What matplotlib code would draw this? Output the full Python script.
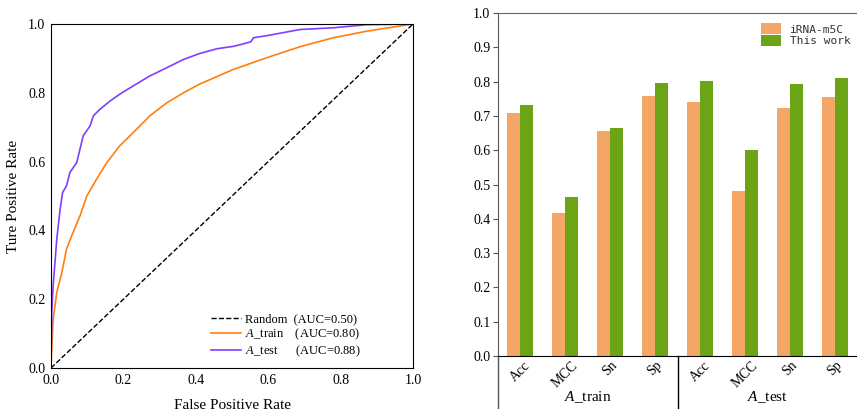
import numpy as np
import matplotlib
matplotlib.use('Agg')
import matplotlib.pyplot as plt
import matplotlib.transforms as mtransforms

plt.rcParams['font.family'] = 'Liberation Serif'
plt.rcParams['mathtext.fontset'] = 'custom'
plt.rcParams['mathtext.it'] = 'Liberation Serif:italic'
plt.rcParams['mathtext.rm'] = 'Liberation Serif'

# ROC curves
fpr_train = [0, 0.002, 0.006, 0.016, 0.03, 0.043, 0.057, 0.08, 0.099, 0.126, 0.154,
             0.19, 0.227, 0.273, 0.32, 0.366, 0.41, 0.504, 0.596, 0.688, 0.78, 0.872, 1.0]
tpr_train = [0, 0.055, 0.142, 0.22, 0.278, 0.346, 0.384, 0.442, 0.5, 0.549, 0.597,
             0.646, 0.684, 0.733, 0.771, 0.8, 0.825, 0.868, 0.902, 0.934, 0.96, 0.979, 1.0]
fpr_test = [0, 0.002, 0.006, 0.016, 0.025, 0.032, 0.043, 0.052, 0.071, 0.089, 0.108,
            0.117, 0.135, 0.163, 0.19, 0.227, 0.273, 0.32, 0.366, 0.41, 0.458, 0.504,
            0.552, 0.559, 0.596, 0.688, 0.78, 0.872, 1.0]
tpr_test = [0, 0.16, 0.24, 0.375, 0.46, 0.51, 0.53, 0.568, 0.597, 0.675, 0.704,
            0.733, 0.752, 0.776, 0.796, 0.82, 0.849, 0.873, 0.897, 0.914, 0.928, 0.935,
            0.948, 0.96, 0.966, 0.984, 0.989, 0.998, 1.0]

# bar chart
metrics = ['Acc', 'MCC', 'Sn', 'Sp', 'Acc', 'MCC', 'Sn', 'Sp']
groups = ['$\\mathit{A}$_train', '$\\mathit{A}$_test']
irna = [0.708, 0.4165, 0.655, 0.757, 0.740, 0.481, 0.722, 0.754]
ours = [0.731, 0.463, 0.664, 0.795, 0.801, 0.600, 0.792, 0.810]

fig = plt.figure(figsize=(8.57, 4.09), dpi=100)

# ---- left: ROC
ax1 = fig.add_axes([51/857, 41/409, 362/857, 344/409])
ax1.plot([0, 1], [0, 1], '--', color='black', lw=1, label='Random  (AUC=0.50)')
ax1.plot(fpr_train, tpr_train, color='#ff7f0e', lw=1.2, label='$\\mathit{A}$_train    (AUC=0.80)')
ax1.plot(fpr_test, tpr_test, color='#7f3fff', lw=1.2, label='$\\mathit{A}$_test      (AUC=0.88)')
ax1.set_xlim(0, 1)
ax1.set_ylim(0, 1)
ax1.set_xticks(np.arange(0, 1.01, 0.2))
ax1.set_yticks(np.arange(0, 1.01, 0.2))
ax1.tick_params(length=0, pad=4, labelsize=10)
ax1.set_xlabel('False Positive Rate', fontsize=11, labelpad=9)
ax1.set_ylabel('Ture Positive Rate', fontsize=11, labelpad=6)
ax1.legend(loc='lower right', frameon=False, fontsize=9, handlelength=2.4,
           handletextpad=0.3, labelspacing=0.12, borderaxespad=0.3,
           bbox_to_anchor=(0.88, 0.0))

# ---- right: bars
ax2 = fig.add_axes([498/857, 53/409, 359/857, 343/409])
x = np.arange(len(metrics))
w = 0.29
ax2.bar(x - w/2, irna, w, color='#f3a666', label='iRNA-m5C')
ax2.bar(x + w/2, ours, w, color='#6ba516', label='This work')
ax2.set_xlim(-0.5, 7.5)
ax2.set_ylim(0, 1)
ax2.set_yticks(np.arange(0, 1.01, 0.1))
ax2.set_yticklabels(['%.1f' % v for v in np.arange(0, 1.01, 0.1)])
ax2.tick_params(axis='y', direction='out', length=3.5, pad=2, labelsize=10, color='#555555')
ax2.set_xticks(x)
ax2.set_xticklabels(metrics, rotation=45, ha='center', fontsize=10)
ax2.tick_params(axis='x', length=0, pad=2)
ax2.spines['right'].set_visible(False)
ax2.spines['top'].set_color('#666666')
ax2.spines['left'].set_color('#555555')
ax2.spines['bottom'].set_color('black')

trans = mtransforms.blended_transform_factory(ax2.transData, ax2.transAxes)
ax2.plot([-0.5, -0.5], [0, -0.16], color='#555555', lw=1, transform=trans, clip_on=False)
ax2.plot([3.5, 3.5], [0, -0.16], color='black', lw=1, transform=trans, clip_on=False)
ax2.text(1.5, -0.12, groups[0], transform=trans, ha='center', va='center', fontsize=11)
ax2.text(5.5, -0.12, groups[1], transform=trans, ha='center', va='center', fontsize=11)

leg = ax2.legend(loc='upper right', frameon=False, prop={'family': 'DejaVu Sans Mono', 'size': 8},
                 handlelength=1.8, handleheight=1.2, handletextpad=0.8, labelspacing=0.0,
                 borderaxespad=0.2, bbox_to_anchor=(1.0, 0.99))
for t in leg.get_texts():
    t.set_color('#333333')

fig.savefig('out.png', dpi=100)
